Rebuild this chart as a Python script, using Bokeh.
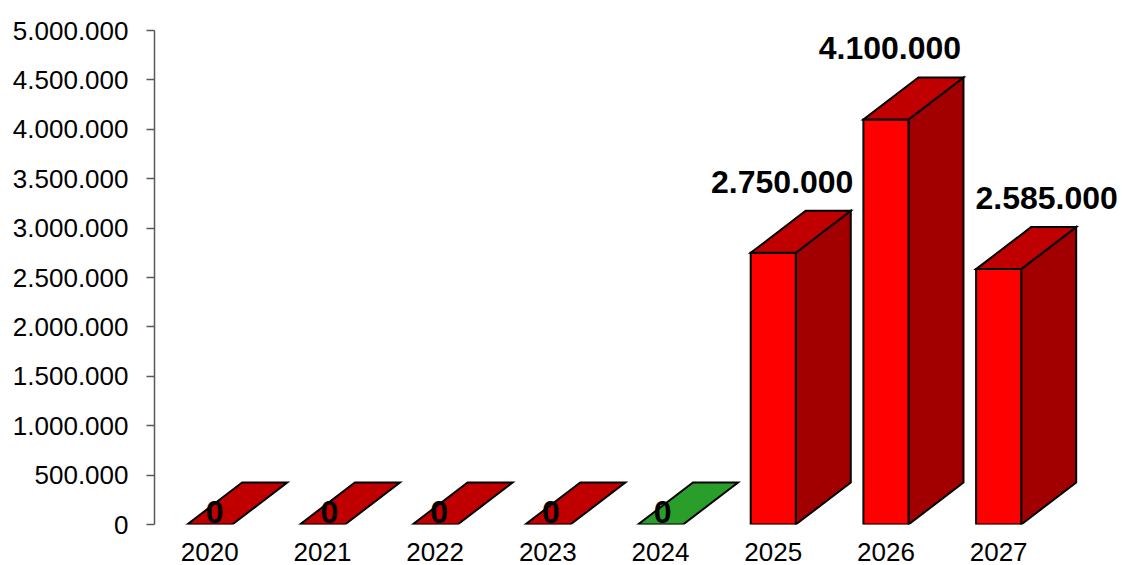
from bokeh.plotting import figure
from bokeh.models import Range1d, FixedTicker, CustomJSTickFormatter, ColumnDataSource
from bokeh.core.properties import value
from bokeh.embed import file_html
from bokeh.resources import INLINE

# ---- data ----
years = ["2020", "2021", "2022", "2023", "2024", "2025", "2026", "2027"]
amounts = [0, 0, 0, 0, 0, 2750000, 4100000, 2585000]
y_ticks = [0, 500000, 1000000, 1500000, 2000000, 2500000,
           3000000, 3500000, 4000000, 4500000, 5000000]

# ---- style ----
FONT = "Liberation Sans"
front_color = "#FF0000"
side_color = "#A20000"
top_colors = ["#C00000", "#C00000", "#C00000", "#C00000", "#2A9E2A",
              "#C00000", "#C00000", "#C00000"]
bar_w = 0.4          # front face width (category units)
depth_x = 0.488      # 3D depth offset (category units)
depth_y = 425000     # 3D depth offset (value units)
label_dx = [5, 7, 4, 3, 2, 9, 4, 48]   # pixel nudges of value labels


def fmt(v):
    return f"{int(v):,}".replace(",", ".")


p = figure(frame_width=968, frame_height=494,
           min_border_left=154, min_border_right=0,
           min_border_top=30, min_border_bottom=41,
           x_range=Range1d(-0.49, 8.099), y_range=Range1d(0, 5000000),
           output_backend="svg", toolbar_location=None, tools="")
p.background_fill_color = "white"
p.border_fill_color = "white"
p.outline_line_color = None
p.grid.visible = False

front_xs, front_ys = [], []
side_xs, side_ys = [], []
top_xs, top_ys = [], []
for i, v in enumerate(amounts):
    x0, x1 = i - bar_w / 2, i + bar_w / 2
    top_xs.append([x0, x1, x1 + depth_x, x0 + depth_x])
    top_ys.append([v, v, v + depth_y, v + depth_y])
    if v > 0:
        front_xs.append([x0, x1, x1, x0])
        front_ys.append([0, 0, v, v])
        side_xs.append([x1, x1 + depth_x, x1 + depth_x, x1])
        side_ys.append([0, depth_y, v + depth_y, v])

p.patches(side_xs, side_ys, fill_color=side_color, line_color="black",
          line_width=2, line_join="miter")
p.patches(front_xs, front_ys, fill_color=front_color, line_color="black",
          line_width=2, line_join="miter")
p.patches(top_xs, top_ys, fill_color=top_colors, line_color="black",
          line_width=2, line_join="miter")

lab_src = ColumnDataSource(dict(
    x=list(range(len(amounts))),
    y=[(v + depth_y) if v > 0 else 0 for v in amounts],
    text=[fmt(v) for v in amounts],
    dx=label_dx,
    dy=[-29 if v > 0 else -13 for v in amounts],
))
p.text(x="x", y="y", text="text", x_offset="dx", y_offset="dy", source=lab_src,
       text_font=value(FONT), text_font_style="bold", text_font_size="32px",
       text_align="center", text_baseline="alphabetic", text_color="black")

# y axis
p.yaxis.ticker = FixedTicker(ticks=y_ticks)
p.yaxis.formatter = CustomJSTickFormatter(
    code="return Math.round(tick).toString().replace(/\\B(?=(\\d{3})+(?!\\d))/g, '.');")
p.yaxis.axis_line_color = "#595959"
p.yaxis.axis_line_width = 1.5
p.yaxis.major_tick_line_color = "#595959"
p.yaxis.major_tick_line_width = 1.5
p.yaxis.major_tick_out = 8
p.yaxis.major_tick_in = 0
p.yaxis.minor_tick_line_color = None
p.yaxis.major_label_standoff = 18
p.yaxis.major_label_text_font = FONT
p.yaxis.major_label_text_font_size = "26px"
p.yaxis.major_label_text_color = "black"

# x axis
p.xaxis.ticker = FixedTicker(ticks=list(range(len(years))))
p.xaxis.major_label_overrides = {i: y for i, y in enumerate(years)}
p.xaxis.axis_line_color = None
p.xaxis.major_tick_line_color = None
p.xaxis.minor_tick_line_color = None
p.xaxis.major_tick_out = 0
p.xaxis.major_tick_in = 0
p.xaxis.major_label_standoff = 18
p.xaxis.major_label_text_font = FONT
p.xaxis.major_label_text_font_size = "26px"
p.xaxis.major_label_text_color = "black"

open("out.html", "w").write(file_html(p, INLINE))
